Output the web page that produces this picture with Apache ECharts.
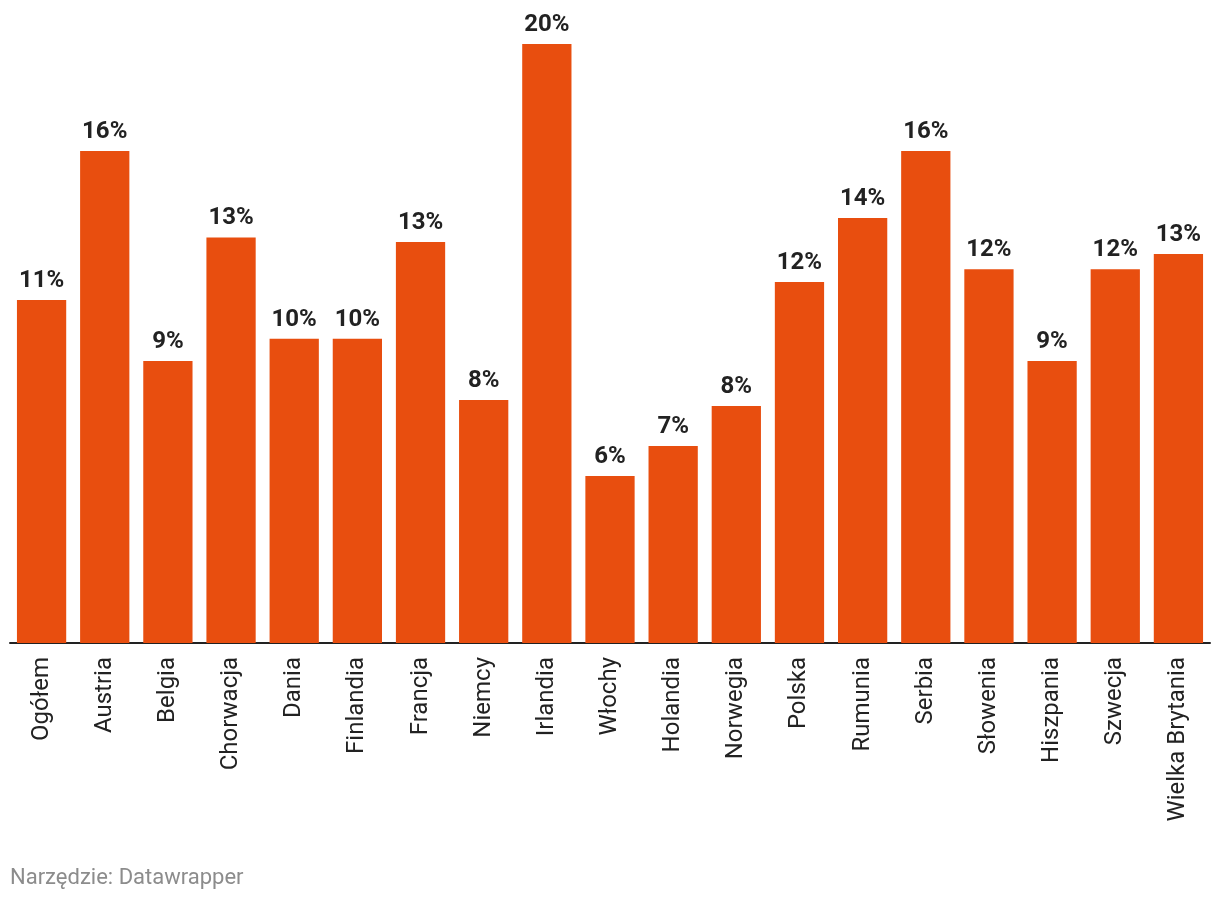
<!DOCTYPE html>
<html>
<head>
<meta charset="utf-8">
<script src="https://cdn.jsdelivr.net/npm/echarts@6/dist/echarts.min.js"></script>
<style>
  html, body { margin: 0; padding: 0; background: #fff; }
  #chart { width: 1220px; height: 906px; }
</style>
</head>
<body>
<div id="chart"></div>
<script>
// kraje i wartości (%)
var countries = ['Ogółem', 'Austria', 'Belgia', 'Chorwacja', 'Dania', 'Finlandia', 'Francja', 'Niemcy', 'Irlandia', 'Włochy',
  'Holandia', 'Norwegia', 'Polska', 'Rumunia', 'Serbia', 'Słowenia', 'Hiszpania', 'Szwecja', 'Wielka Brytania'];
var values = [11.38, 16.32, 9.35, 13.45, 10.09, 10.09, 13.30, 8.06, 19.87, 5.54,
  6.53, 7.86, 11.97, 14.10, 16.32, 12.40, 9.35, 12.40, 12.90];

var dom = document.getElementById('chart');
var myChart = echarts.init(dom);
var option = {
  animation: false,
  textStyle: { fontFamily: 'Roboto' },
  grid: { left: 10, right: 10, top: 40, bottom: 263, containLabel: false },
  xAxis: {
    type: 'category',
    data: countries,
    axisLine: { lineStyle: { color: '#222', width: 2 } },
    axisTick: { show: false },
    axisLabel: { rotate: 90, margin: 14, fontSize: 24, color: '#222', fontFamily: 'Roboto' }
  },
  yAxis: {
    type: 'value',
    min: 0,
    max: 20,
    show: false
  },
  series: [{
    type: 'bar',
    data: values,
    barCategoryGap: '22%',
    itemStyle: { color: '#e84e0f' },
    label: {
      show: true,
      position: 'top',
      distance: 7,
      fontSize: 24,
      fontWeight: 'bold',
      color: '#222',
      fontFamily: 'Roboto',
      formatter: function (p) { return Math.round(p.value) + '%'; }
    }
  }],
  graphic: [{
    type: 'text',
    left: 10,
    top: 867,
    style: { text: 'Narzędzie: Datawrapper', fontSize: 22, fill: '#8c8c8c', fontFamily: 'Roboto' }
  }]
};
myChart.setOption(option, true);
window.addEventListener('resize', function () { myChart.resize(); });
</script>
</body>
</html>
